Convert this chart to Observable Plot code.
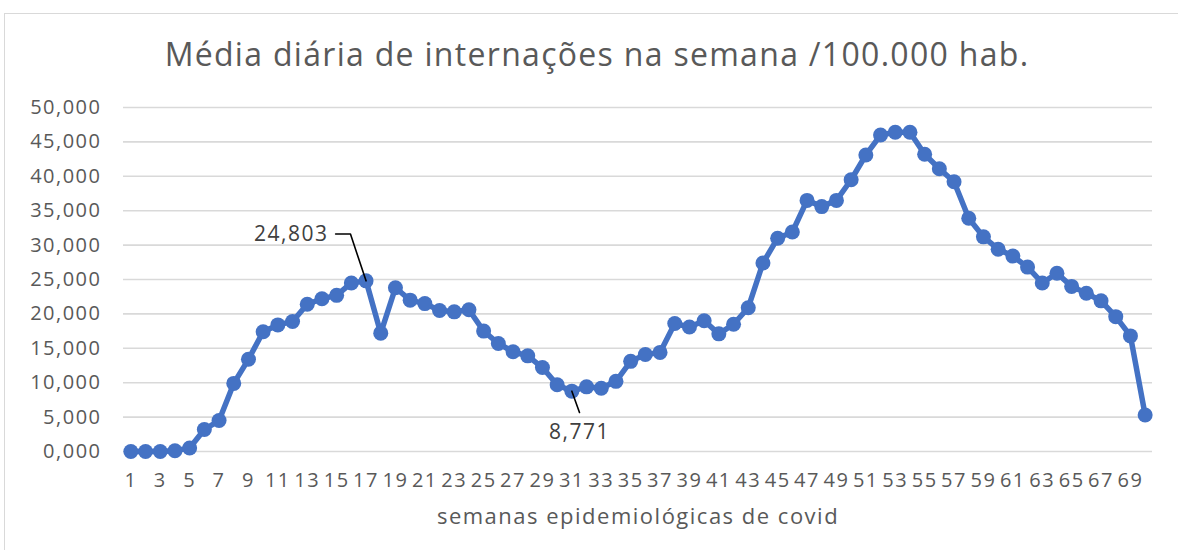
<!DOCTYPE html>
<html>
<head>
<meta charset="utf-8">
<script src="https://cdn.jsdelivr.net/npm/d3@7"></script>
<script src="https://cdn.jsdelivr.net/npm/@observablehq/plot@0.6"></script>
<style>
  body { margin: 0; background: #fff; width: 1178px; height: 550px; overflow: hidden; position: relative; font-family: "Open Sans", sans-serif; }
  #frame { position: absolute; left: 4px; top: 13px; width: 1300px; height: 600px; border-left: 1.5px solid #d9d9d9; border-top: 1.5px solid #d9d9d9; }
  #title { position: absolute; left: 0; top: 32px; width: 1194px; text-align: center; font-size: 32px; color: #595959; letter-spacing: 1.3px; white-space: nowrap; }
  #chart { position: absolute; left: 0; top: 90px; }
</style>
</head>
<body>
<div id="frame"></div>
<div id="title">Média diária de internações na semana /100.000 hab.</div>
<div id="chart"></div>
<script>
const weeks = d3.range(1, 71);
const values = [
  0.0, 0.0, 0.0, 0.1, 0.5, 3.2, 4.5, 9.9, 13.4, 17.4,
  18.4, 18.9, 21.4, 22.2, 22.7, 24.5, 24.803, 17.2, 23.8, 22.0,
  21.5, 20.5, 20.3, 20.6, 17.5, 15.7, 14.5, 13.9, 12.2, 9.7,
  8.771, 9.4, 9.2, 10.2, 13.1, 14.1, 14.4, 18.6, 18.1, 19.0,
  17.1, 18.5, 20.9, 27.4, 31.0, 31.9, 36.5, 35.6, 36.5, 39.5,
  43.1, 46.0, 46.4, 46.4, 43.2, 41.1, 39.2, 33.9, 31.2, 29.4,
  28.4, 26.8, 24.5, 25.9, 24.0, 23.0, 21.9, 19.6, 16.8, 5.3
];
const yTicks = [0, 5, 10, 15, 20, 25, 30, 35, 40, 45, 50];
const xTicks = d3.range(1, 70, 2);
const annotatedWeeks = [17, 31];

const ptBR = d3.formatLocale({decimal: ",", thousands: ".", grouping: [3], currency: ["R$", ""]});
const fmt = ptBR.format(".3f");

const data = weeks.map((w, i) => ({week: w, value: values[i]}));
const ann = data.filter(d => annotatedWeeks.includes(d.week));
const hi = ann[0], lo = ann[1];

const chart = Plot.plot({
  width: 1178,
  height: 460,
  marginLeft: 123,
  marginRight: 26,
  marginTop: 17,
  marginBottom: 99,
  style: {fontFamily: "Open Sans", fontSize: "20px", letterSpacing: "1.5px", color: "#595959", background: "transparent"},
  x: {type: "linear", domain: [0.5, 70.5], ticks: xTicks, tickSize: 0, tickPadding: 21, tickFormat: d => String(d), label: null},
  y: {domain: [0, 50], ticks: yTicks, tickSize: 0, tickPadding: 22, tickFormat: fmt, label: null},
  marks: [
    Plot.ruleY(yTicks, {stroke: "#d9d9d9", strokeWidth: 1.6}),
    Plot.line(data, {x: "week", y: "value", stroke: "#4472C4", strokeWidth: 5.5, strokeLinejoin: "round"}),
    Plot.dot(data, {x: "week", y: "value", r: 7.5, fill: "#4472C4", stroke: "none"}),
    // leader for the maximum label
    Plot.line([
      {x: hi.week, y: hi.value},
      {x: hi.week - 1.06, y: hi.value + 6.8},
      {x: hi.week - 2.07, y: hi.value + 6.8}
    ], {x: "x", y: "y", stroke: "#000", strokeWidth: 1.6}),
    Plot.text([hi], {x: d => d.week - 2.55, y: d => d.value + 6.75, text: d => fmt(d.value), textAnchor: "end", fill: "#404040", fontSize: 21}),
    // leader for the minimum label
    Plot.line([
      {x: lo.week, y: lo.value},
      {x: lo.week + 0.52, y: lo.value - 3.1}
    ], {x: "x", y: "y", stroke: "#000", strokeWidth: 1.6}),
    Plot.text([lo], {x: d => d.week + 0.52, y: d => d.value - 5.95, text: d => fmt(d.value), fill: "#404040", fontSize: 21}),
    Plot.text(["semanas epidemiológicas de covid"], {frameAnchor: "bottom", dy: 72, text: d => d, fill: "#595959", fontSize: 22})
  ]
});
document.getElementById("chart").appendChild(chart);
</script>
</body>
</html>
